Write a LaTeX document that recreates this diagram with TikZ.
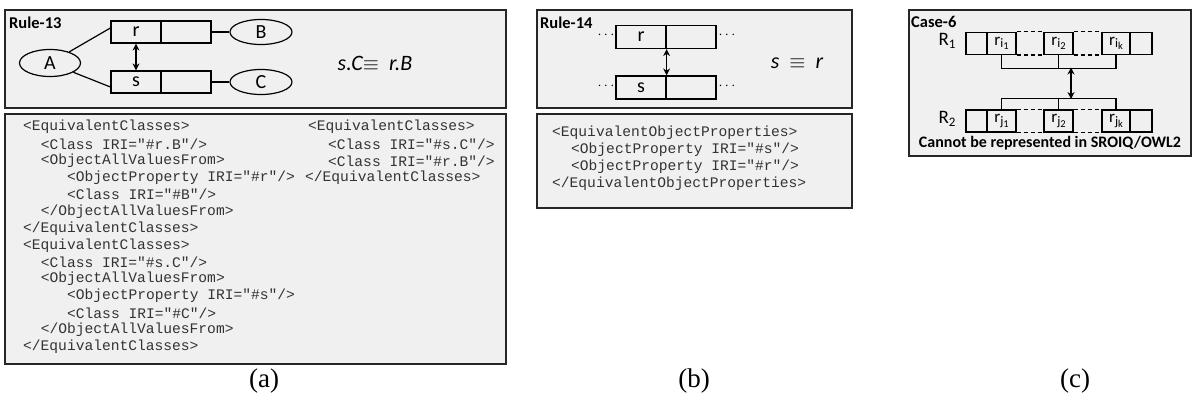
\documentclass[tikz,border=0pt]{standalone}
\usepackage{fontspec}
\setmainfont{Carlito}
\newfontfamily\codefont{Liberation Mono}
\newfontfamily\capfont{Liberation Serif}
\usetikzlibrary{shapes.geometric,arrows.meta}
\newcommand\rsub[2]{r\raisebox{-2.5pt}{\fontsize{13}{13}\selectfont #1\raisebox{-2pt}{\fontsize{10.5}{10.5}\selectfont #2}}}
\begin{document}
\begin{tikzpicture}[x=1pt,y=-1pt,
 panel/.style={draw=black!85, line width=1.5pt, fill=black!6},
 cell/.style={draw=black, line width=1.2pt, minimum width=50pt, minimum height=22pt, inner sep=0pt, font=\fontsize{20}{20}\selectfont},
 ccell/.style={draw=black, line width=1.2pt, minimum height=22pt, inner sep=0pt, font=\fontsize{17}{17}\selectfont},
 ell/.style={ellipse, draw=black, line width=1.2pt, inner sep=0pt, minimum width=62pt, minimum height=25pt, font=\fontsize{20}{20}\selectfont},
 code/.style={anchor=west, inner sep=0pt, font=\codefont\fontsize{14.6}{14.6}\selectfont, text=black!80},
 ttl/.style={anchor=west, inner sep=0pt, font=\bfseries\fontsize{16.5}{16.5}\selectfont},
 arr/.style={{Stealth[length=7pt,width=7pt]}-{Stealth[length=7pt,width=7pt]}, line width=1.3pt},
 conn/.style={line width=1.2pt},
 dotsn/.style={inner sep=0pt, font=\fontsize{14}{14}\selectfont},
 caption/.style={inner sep=0pt, font=\capfont\fontsize{27}{27}\selectfont}
]
\useasboundingbox (0,0) rectangle (1198,404);
% panels
\path[panel] (5,10) rectangle (506,108);
\path[panel] (5,114) rectangle (506,364);
\path[panel] (537,10) rectangle (852,108);
\path[panel] (537,114) rectangle (852,208);
\path[panel] (909,10) rectangle (1191,156);

% ---------- (a) ----------
\node[ttl] (t13) at (9,23) {Rule-13};
\node[ell, minimum width=61pt, minimum height=27pt] (A) at (50,63) {A};
\node[cell] (r1) at (136,32) {r};
\node[cell] (r2) at (186,32) {};
\node[cell] (s1) at (136,82) {s};
\node[cell] (s2) at (186,82) {};
\node[ell] (B) at (261,32) {B};
\node[ell] (C) at (261,82) {C};
\draw[conn] (A) -- ([yshift=4pt]r1.west);
\draw[conn] (A) -- ([yshift=-5pt]s1.west);
\draw[conn] (r2.east) -- (B.west);
\draw[conn] (s2.east) -- (C.west);
\draw[arr] (r1.south) -- (s1.north);
\node[inner sep=0pt, font=\fontsize{22}{22}\selectfont] (eqa) at (375,63) {\itshape s.C$\equiv$\ \ r.B};

\def\cw{8.8}
\foreach \col/\row/\txt [count=\i] in {
 0/0/{<EquivalentClasses>},
 2/1/{<Class IRI="\#r.B"/>},
 2/2/{<ObjectAllValuesFrom>},
 5/3/{<ObjectProperty IRI="\#r"/>},
 5/4/{<Class IRI="\#B"/>},
 2/5/{</ObjectAllValuesFrom>},
 0/6/{</EquivalentClasses>},
 0/7/{<EquivalentClasses>},
 2/8/{<Class IRI="\#s.C"/>},
 2/9/{<ObjectAllValuesFrom>},
 5/10/{<ObjectProperty IRI="\#s"/>},
 5/11/{<Class IRI="\#C"/>},
 2/12/{</ObjectAllValuesFrom>},
 0/13/{</EquivalentClasses>}}
 { \node[code] (ca\i) at ({23+\col*\cw},{127+\row*16.9}) {\txt}; }
\node[code] (cb1) at (308,127) {<EquivalentClasses>};
\node[code] (cb2) at (328,143.9) {<Class IRI="\#s.C"/>};
\node[code] (cb3) at (328,160.8) {<Class IRI="\#r.B"/>};
\node[code] (cb4) at (305,177.7) {</EquivalentClasses>};

% ---------- (b) ----------
\node[ttl] (t14) at (540,23) {Rule-14};
\node[cell, minimum height=23pt] (rb1) at (641,37) {r};
\node[cell, minimum height=23pt] (rb2) at (691,37) {};
\node[cell, minimum height=23pt] (sb1) at (641,87.5) {s};
\node[cell, minimum height=23pt] (sb2) at (691,87.5) {};
\node[dotsn] (d1) at (606,35) {$\cdots$};
\node[dotsn] (d2) at (727,35) {$\cdots$};
\node[dotsn] (d3) at (606,86) {$\cdots$};
\node[dotsn] (d4) at (727,86) {$\cdots$};
\draw[arr] (rb1.south east) -- (sb1.north east);
\node[inner sep=0pt, font=\fontsize{22}{22}\selectfont] (eqb) at (797,63) {\itshape s\ \ $\equiv$\ \ r};
\node[code] (cc1) at (552,133) {<EquivalentObjectProperties>};
\node[code] (cc2) at (571,150) {<ObjectProperty IRI="\#s"/>};
\node[code] (cc3) at (571,167) {<ObjectProperty IRI="\#r"/>};
\node[code] (cc4) at (552,184) {</EquivalentObjectProperties>};

% ---------- (c) ----------
\node[ttl] (c6) at (911,22) {Case-6};
\node[inner sep=0pt, font=\fontsize{19}{19}\selectfont] (R1) at (947,41) {R\raisebox{-3.5pt}{\fontsize{13}{13}\selectfont 1}};
\node[inner sep=0pt, font=\fontsize{19}{19}\selectfont] (R2) at (947,119) {R\raisebox{-3.5pt}{\fontsize{13}{13}\selectfont 2}};
% row 1
\node[ccell, minimum width=21pt] (e1) at (976.5,43.5) {};
\node[ccell, minimum width=29pt] (ri1) at (1001.5,43.5) {\rsub{i}{1}};
\node[ccell, minimum width=29pt] (ri2) at (1058.5,43.5) {\rsub{i}{2}};
\node[ccell, minimum width=28pt] (rik) at (1116,43.5) {\rsub{i}{k}};
\node[ccell, minimum width=22pt] (e2) at (1141,43.5) {};
\draw[conn, dash pattern=on 4pt off 3pt] (ri1.north east) -- (ri2.north west);
\draw[conn, dash pattern=on 4pt off 3pt] (ri1.south east) -- (ri2.south west);
\draw[conn, dash pattern=on 4pt off 3pt] (ri2.north east) -- (rik.north west);
\draw[conn, dash pattern=on 4pt off 3pt] (ri2.south east) -- (rik.south west);
% row 2
\node[ccell, minimum width=21pt] (f1) at (976.5,121) {};
\node[ccell, minimum width=29pt] (rj1) at (1001.5,121) {\rsub{j}{1}};
\node[ccell, minimum width=29pt] (rj2) at (1058.5,121) {\rsub{j}{2}};
\node[ccell, minimum width=28pt] (rjk) at (1116,121) {\rsub{j}{k}};
\node[ccell, minimum width=22pt] (f2) at (1141,121) {};
\draw[conn, dash pattern=on 4pt off 3pt] (rj1.north east) -- (rj2.north west);
\draw[conn, dash pattern=on 4pt off 3pt] (rj1.south east) -- (rj2.south west);
\draw[conn, dash pattern=on 4pt off 3pt] (rj2.north east) -- (rjk.north west);
\draw[conn, dash pattern=on 4pt off 3pt] (rj2.south east) -- (rjk.south west);
% brackets
\draw[conn] (ri1.south) -- ++(0,13) -| (rik.south);
\draw[conn] (ri2.south) -- ++(0,13);
\draw[conn] (rj1.north) -- ++(0,-11) -| (rjk.north);
\draw[conn] (rj2.north) -- ++(0,-11);
\coordinate (up) at (1071,67.5);
\coordinate (dn) at (1071,99);
\draw[arr] (up) -- (dn);
\node[inner sep=0pt, font=\bfseries\fontsize{16}{16}\selectfont] (cannot) at (1050,143) {Cannot be represented in SROIQ/OWL2};

% captions
\node[caption] (la) at (264,381) {(a)};
\node[caption] (lb) at (694,381) {(b)};
\node[caption] (lc) at (1075,381) {(c)};
\end{tikzpicture}
\end{document}
